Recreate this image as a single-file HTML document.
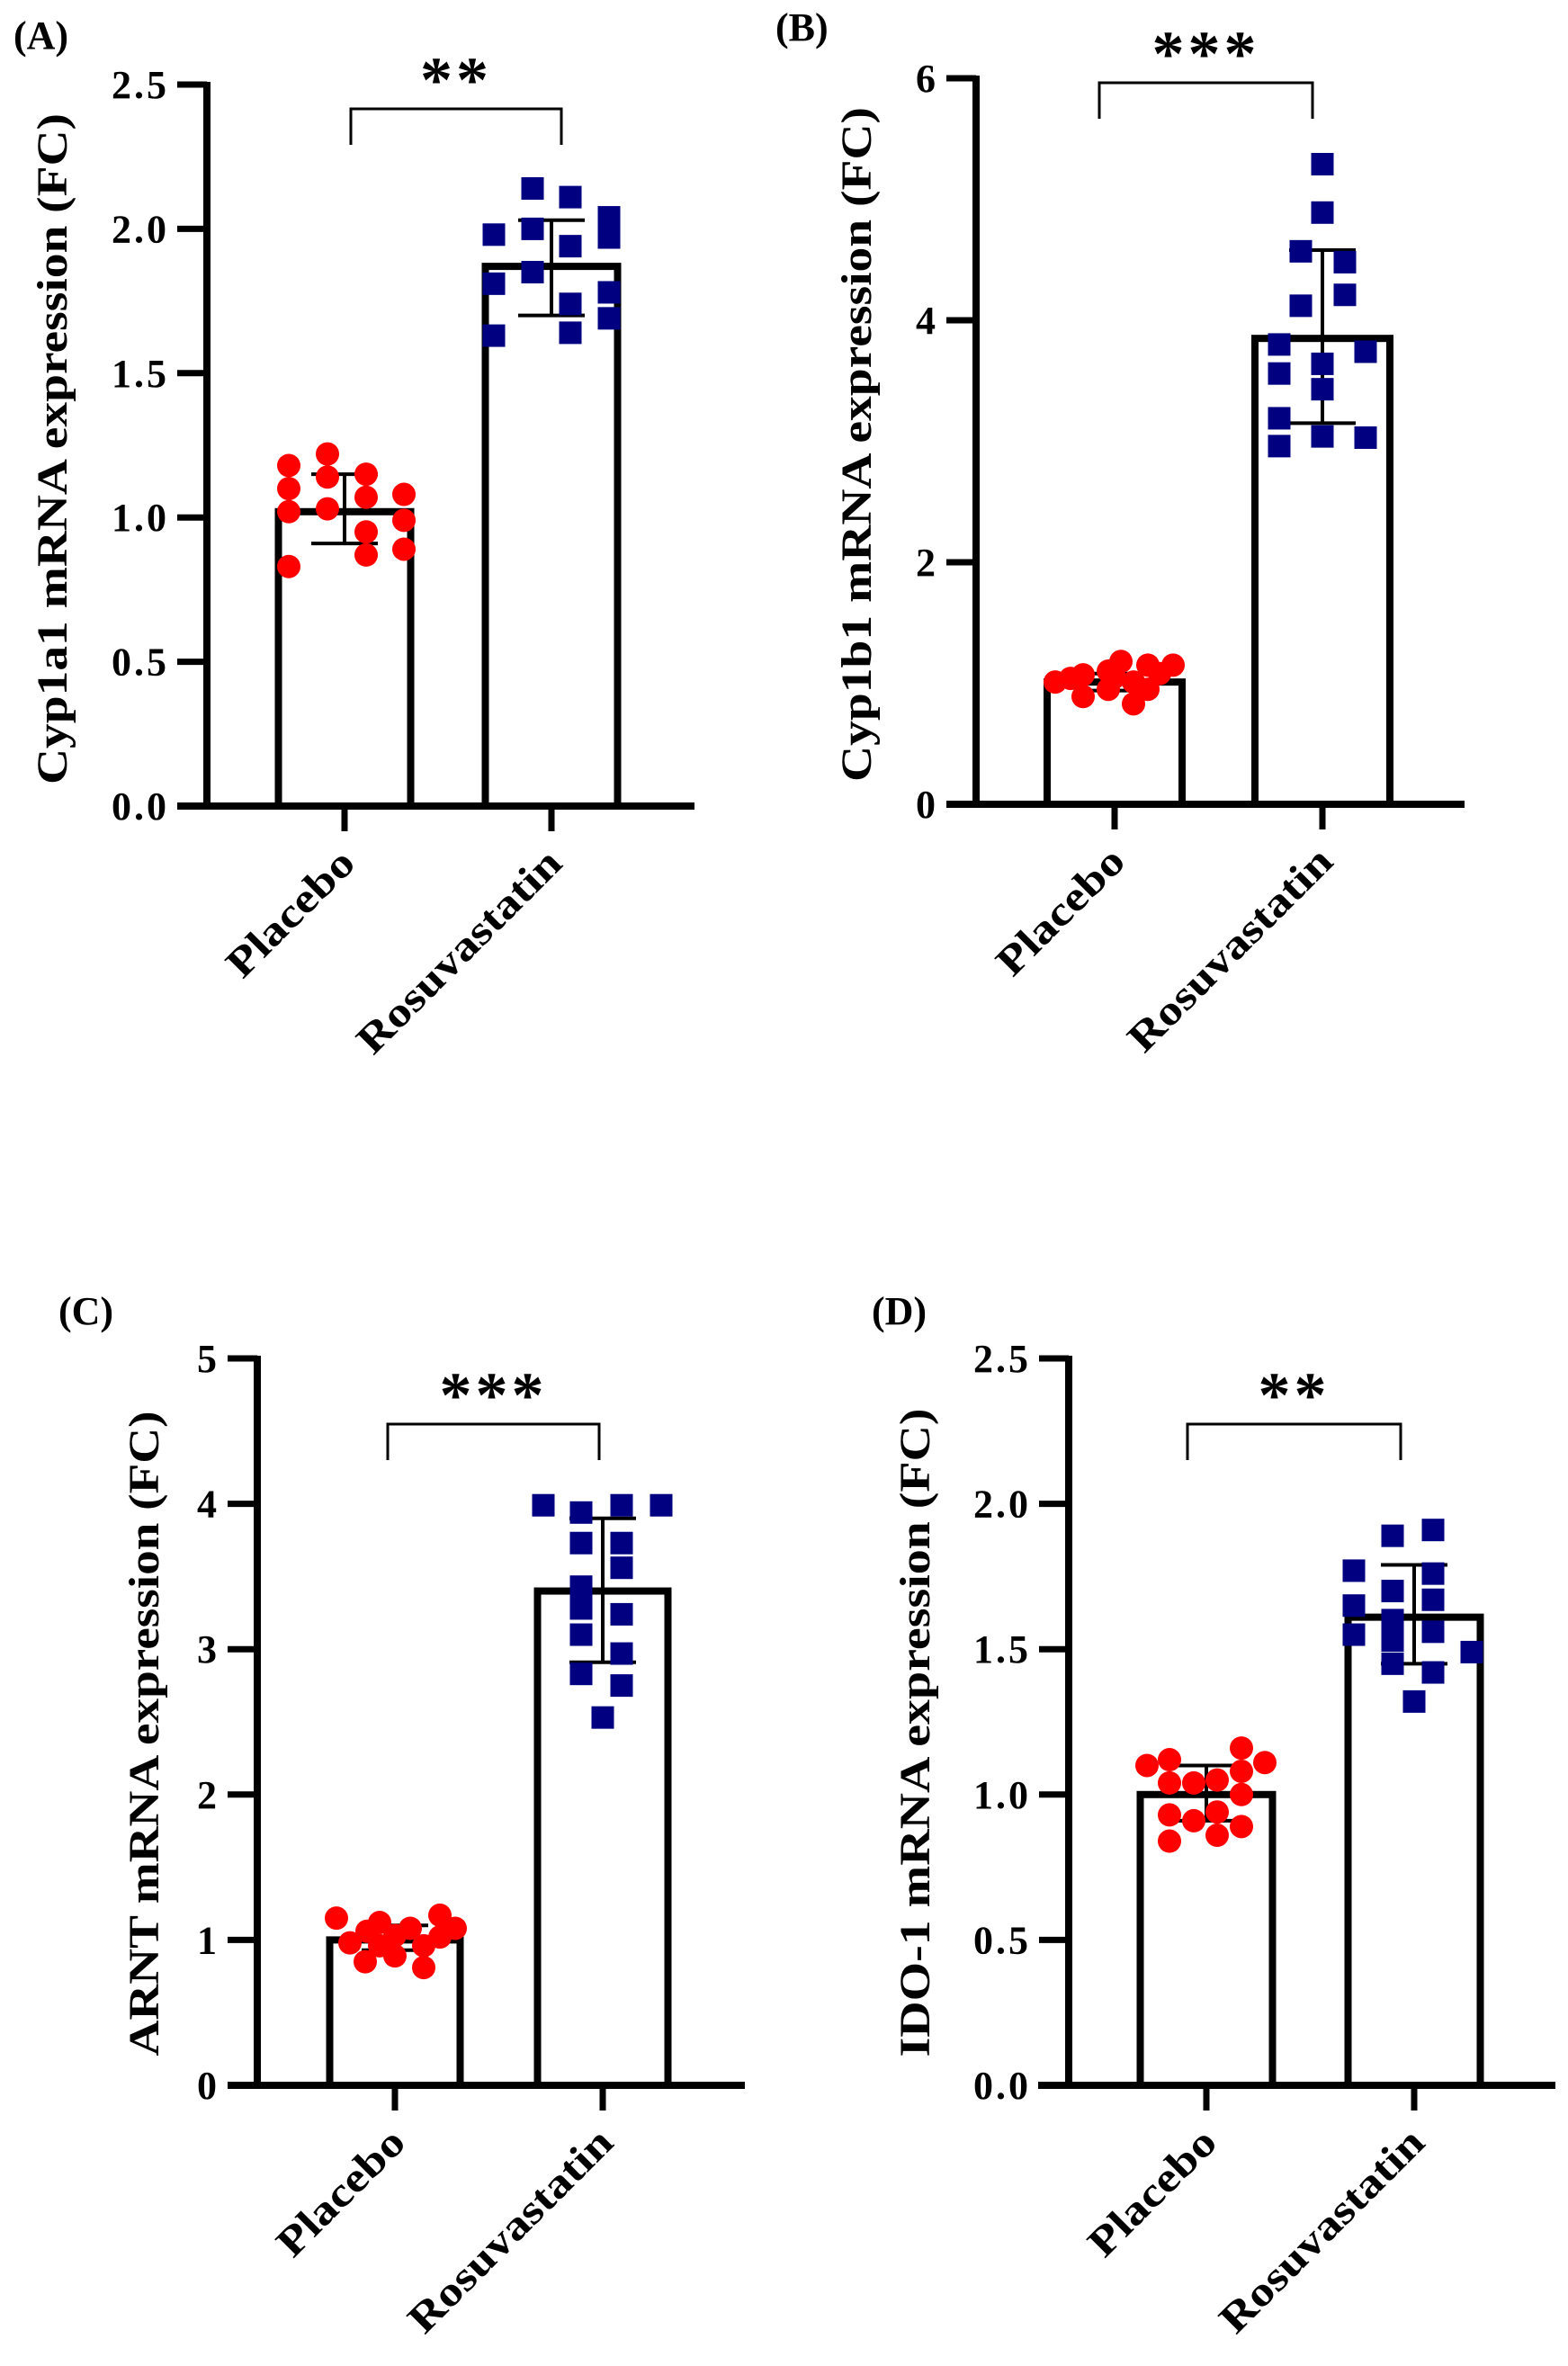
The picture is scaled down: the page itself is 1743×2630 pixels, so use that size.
<!DOCTYPE html>
<html><head><meta charset="utf-8"><style>
html,body{margin:0;padding:0;background:#fff;}
svg{display:block;}
text{font-family:"Liberation Serif",serif;font-weight:bold;fill:#000;}
</style></head><body>
<svg id="fig" width="1743" height="2630" viewBox="0 0 1743 2630" xmlns="http://www.w3.org/2000/svg"></svg>
<script>
// ---------- Data ----------
const categories = ["Placebo", "Rosuvastatin"];

// Panel A: Cyp1a1
const aMeans = [1.02, 1.87];
const aErrHi = [1.15, 2.03];
const aErrLo = [0.91, 1.70];
const aPlaceboVals = [1.18,1.10,1.02,0.83, 1.22,1.14,1.03, 1.15,1.07,0.95,0.87, 1.08,0.99,0.89];
const aPlaceboJit  = [-62,-62,-62,-62, -19,-19,-19, 24,24,24,24, 66,66,66];
const aRosuVals = [1.98,1.81,1.63, 2.14,2.00,1.85, 2.11,1.94,1.74,1.64, 2.04,1.97,1.78,1.69];
const aRosuJit  = [-64,-64,-64, -21,-21,-21, 21,21,21,21, 64,64,64,64];
const aTicks = ["0.0","0.5","1.0","1.5","2.0","2.5"];
const aTickVals = [0,0.5,1,1.5,2,2.5];

// Panel B: Cyp1b1
const bMeans = [1.01, 3.85];
const bErrHi = [1.08, 4.58];
const bErrLo = [0.94, 3.15];
const bPlaceboVals = [1.01,1.04,1.07,0.89,1.10,0.95,1.18,1.01,0.83,1.15,0.95,1.15,1.05,1.08];
const bPlaceboJit  = [-66,-49,-35,-35,-7,-7,7,21,21,37,37,65,0,50];
const bRosuVals = [3.80,3.56,3.19,2.96, 4.57,4.12, 5.29,4.89,3.64,3.43,3.04, 4.48,4.21, 3.74,3.03];
const bRosuJit  = [-48,-48,-48,-48, -24,-24, 0,0,0,0,0, 25,25, 48,48];
const bTicks = ["0","2","4","6"];
const bTickVals = [0,2,4,6];

// Panel C: ARNT
const cMeans = [1.00, 3.40];
const cErrHi = [1.10, 3.90];
const cErrLo = [0.93, 2.91];
const cPlaceboVals = [1.15,0.98,0.85,1.12,0.96,1.03,0.89,1.08,0.81,0.96,1.17,1.02,1.08,1.06];
const cPlaceboJit  = [-65,-50,-33,-17,-17,0,0,17,32,32,50,50,67,-31];
const cRosuVals = [3.99, 3.94,3.73,3.43,3.28,3.10,2.83, 2.53, 3.99,3.73,3.56,3.24,2.97,2.75, 3.99];
const cRosuJit  = [-66, -24,-24,-24,-24,-24,-24, 0, 21,21,21,21,21,21, 65];
const cTicks = ["0","1","2","3","4","5"];
const cTickVals = [0,1,2,3,4,5];

// Panel D: IDO-1
const dMeans = [1.00, 1.61];
const dErrHi = [1.10, 1.79];
const dErrLo = [0.91, 1.45];
const dPlaceboVals = [1.10, 1.12,1.04,0.93,0.84, 1.04,0.91, 1.05,0.94,0.86, 1.08,1.00,0.89,1.16, 1.11];
const dPlaceboJit  = [-66, -41,-41,-41,-41, -14,-14, 12,12,12, 39,39,39,39, 65];
const dRosuVals = [1.77,1.65,1.55, 1.89,1.70,1.60,1.53,1.45, 1.32, 1.91,1.76,1.67,1.56,1.42, 1.49];
const dRosuJit  = [-67,-67,-67, -24,-24,-24,-24,-24, 0, 21,21,21,21,21, 64];
const dTicks = ["0.0","0.5","1.0","1.5","2.0","2.5"];
const dTickVals = [0,0.5,1,1.5,2,2.5];

// ---------- Layout ----------
const NS = "http://www.w3.org/2000/svg";
const svg = document.getElementById("fig");
function mk(tag, attrs, parent) {
  const e = document.createElementNS(NS, tag);
  for (const k in attrs) e.setAttribute(k, attrs[k]);
  (parent || svg).appendChild(e);
  return e;
}

function drawPanel(L, D) {
  const g = mk("g", {});
  
  
  const yScale = v => L.y0 - (v / L.ymax) * (L.y0 - L.yTop);

  const pl = mk("text", {x: L.labX, y: L.labY, "font-size": 44}, g);
  pl.textContent = "(" + L.id.toUpperCase() + ")";
  
  

  const yt = mk("text", {x: 0, y: 0, "font-size": 48, "text-anchor": "middle",
    textLength: L.titleLen, lengthAdjust: "spacingAndGlyphs",
    transform: `translate(${L.titleX},${L.titleY}) rotate(-90)`}, g);
  yt.textContent = L.title;
  
  

  D.tickVals.forEach((v, i) => {
    const y = yScale(v);
    const t = mk("line", {x1: L.axisX - 33, x2: L.axisX, y1: y, y2: y, stroke: "#000", "stroke-width": 7}, g);
    
    
    const lb = mk("text", {x: L.axisX - 42, y: y + 15, "font-size": 44, "text-anchor": "end", "letter-spacing": 3}, g);
    lb.textContent = D.ticks[i];
    
    
  });

  const bw = L.barW;
  D.means.forEach((m, i) => {
    const cx = L.cx[i];
    const r = mk("rect", {x: cx - bw/2, y: yScale(m), width: bw, height: L.y0 - yScale(m),
      fill: "#fff", stroke: "#000", "stroke-width": 8}, g);
    
    
  });

  D.means.forEach((m, i) => {
    const cx = L.cx[i];
    const eg = mk("g", {stroke: "#000", "stroke-width": 4}, g);
    
    
    mk("line", {x1: cx, x2: cx, y1: yScale(D.hi[i]), y2: yScale(D.lo[i])}, eg);
    mk("line", {x1: cx - 37, x2: cx + 37, y1: yScale(D.hi[i]), y2: yScale(D.hi[i])}, eg);
    mk("line", {x1: cx - 37, x2: cx + 37, y1: yScale(D.lo[i]), y2: yScale(D.lo[i])}, eg);
  });

  D.pVals.forEach((v, i) => {
    const c = mk("circle", {cx: L.cx[0] + D.pJit[i], cy: yScale(v), r: 13, fill: "#ff0000"}, g);
    
    
  });
  D.rVals.forEach((v, i) => {
    const s = mk("rect", {x: L.cx[1] + D.rJit[i] - 12.5, y: yScale(v) - 12.5, width: 25, height: 25, fill: "#000080"}, g);
    
    
  });

  const ya = mk("line", {x1: L.axisX, x2: L.axisX, y1: L.yTop - 3, y2: L.y0 + 4, stroke: "#000", "stroke-width": 8}, g);
  
  
  const xa = mk("line", {x1: L.xL, x2: L.xR, y1: L.y0, y2: L.y0, stroke: "#000", "stroke-width": 8}, g);
  
  

  categories.forEach((c, i) => {
    const tx = L.cx[i];
    const t = mk("line", {x1: tx, x2: tx, y1: L.y0, y2: L.y0 + 28, stroke: "#000", "stroke-width": 7}, g);
    
    
    const lb = mk("text", {x: 0, y: 0, "font-size": 46, "text-anchor": "end",
      textLength: i === 0 ? 180 : 300, lengthAdjust: "spacingAndGlyphs",
      transform: `translate(${tx + 14},${L.y0 + 66}) rotate(-45)`}, g);
    lb.textContent = c;
    
    
  });

  const br = mk("path", {d: `M${L.bx1},${L.by + 40} V${L.by} H${L.bx2} V${L.by + 40}`,
    fill: "none", stroke: "#000", "stroke-width": 3}, g);
  
  
  const st = mk("text", {x: (L.bx1 + L.bx2) / 2, y: L.by - 8, "font-size": 72, "text-anchor": "middle", "letter-spacing": 4}, g);
  st.textContent = L.stars;
  
  
}

drawPanel({id:"a", title:"Cyp1a1 mRNA expression (FC)", titleLen:746, titleX:74, titleY:499,
  axisX:230, y0:896, yTop:94, ymax:2.5, xL:197, xR:772, cx:[383,613], barW:147,
  bx1:390, bx2:624, by:121, stars:"**", labX:15, labY:54},
  {means:aMeans, hi:aErrHi, lo:aErrLo, pVals:aPlaceboVals, pJit:aPlaceboJit, rVals:aRosuVals, rJit:aRosuJit, ticks:aTicks, tickVals:aTickVals});

drawPanel({id:"b", title:"Cyp1b1 mRNA expression (FC)", titleLen:750, titleX:968, titleY:494,
  axisX:1085, y0:894, yTop:87, ymax:6, xL:1052, xR:1628, cx:[1239,1470], barW:150,
  bx1:1222, bx2:1459, by:92, stars:"***", labX:862, labY:45},
  {means:bMeans, hi:bErrHi, lo:bErrLo, pVals:bPlaceboVals, pJit:bPlaceboJit, rVals:bRosuVals, rJit:bRosuJit, ticks:bTicks, tickVals:bTickVals});

drawPanel({id:"c", title:"ARNT mRNA expression (FC)", titleLen:717, titleX:176, titleY:1927,
  axisX:286, y0:2318, yTop:1510, ymax:5, xL:253, xR:828, cx:[439,670], barW:145,
  bx1:431, bx2:666, by:1583, stars:"***", labX:65, labY:1472},
  {means:cMeans, hi:cErrHi, lo:cErrLo, pVals:cPlaceboVals, pJit:cPlaceboJit, rVals:cRosuVals, rJit:cRosuJit, ticks:cTicks, tickVals:cTickVals});

drawPanel({id:"d", title:"IDO-1 mRNA expression (FC)", titleLen:721, titleX:1033, titleY:1926,
  axisX:1188, y0:2318, yTop:1510, ymax:2.5, xL:1154, xR:1729, cx:[1341,1572], barW:147,
  bx1:1320, bx2:1557, by:1583, stars:"**", labX:969, labY:1472},
  {means:dMeans, hi:dErrHi, lo:dErrLo, pVals:dPlaceboVals, pJit:dPlaceboJit, rVals:dRosuVals, rJit:dRosuJit, ticks:dTicks, tickVals:dTickVals});
</script>
</body></html>
